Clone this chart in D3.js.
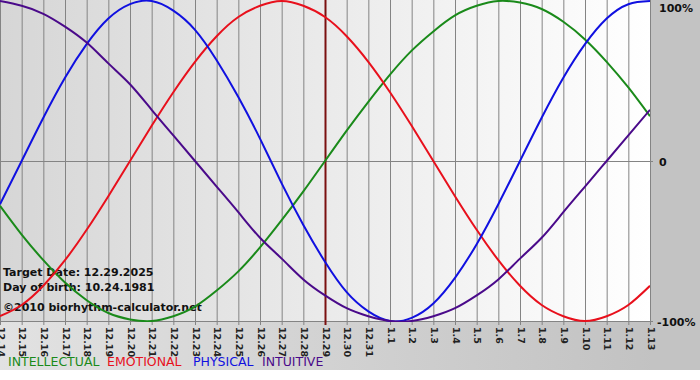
<!DOCTYPE html>
<html><head><meta charset="utf-8">
<script src="https://cdn.jsdelivr.net/npm/d3@7"></script>
<style>
html,body{margin:0;padding:0;background:#fff;}
svg{display:block;}
text{font-family:Tahoma,"DejaVu Sans",Verdana,sans-serif;}
</style></head>
<body>
<script>
const dates = ["12.14","12.15","12.16","12.17","12.18","12.19","12.20","12.21","12.22","12.23","12.24","12.25","12.26","12.27","12.28","12.29","12.30","12.31","1.1","1.2","1.3","1.4","1.5","1.6","1.7","1.8","1.9","1.10","1.11","1.12","1.13"];
const intellectual = [-0.28,-0.46,-0.62,-0.76,-0.87,-0.95,-0.99,-1.00,-0.97,-0.91,-0.81,-0.69,-0.54,-0.37,-0.19,0.00,0.19,0.37,0.54,0.69,0.81,0.91,0.97,1.00,0.99,0.95,0.87,0.76,0.62,0.46,0.28];
const emotional = [-0.97,-0.90,-0.78,-0.62,-0.43,-0.22,0.00,0.22,0.43,0.62,0.78,0.90,0.97,1.00,0.97,0.90,0.78,0.62,0.43,0.22,0.00,-0.22,-0.43,-0.62,-0.78,-0.90,-0.97,-1.00,-0.97,-0.90,-0.78];
const physical = [-0.27,0.00,0.27,0.52,0.73,0.89,0.98,1.00,0.94,0.82,0.63,0.40,0.14,-0.14,-0.40,-0.63,-0.82,-0.94,-1.00,-0.98,-0.89,-0.73,-0.52,-0.27,0.00,0.27,0.52,0.73,0.89,0.98,1.00];
const intuitive = [1.00,0.97,0.92,0.84,0.74,0.61,0.48,0.32,0.16,0.00,-0.16,-0.32,-0.48,-0.61,-0.74,-0.84,-0.92,-0.97,-1.00,-1.00,-0.97,-0.92,-0.84,-0.74,-0.61,-0.48,-0.32,-0.16,0.00,0.16,0.32];
const yTicks = [1, 0, -1];
const yTickLabels = ["100%", "0", "-100%"];
const targetDate = "12.29";
const infoLines = ["Target Date: 12.29.2025", "Day of birth: 10.24.1981", "\u00a92010 biorhythm-calculator.net"];
const legendNames = ["INTELLECTUAL", "EMOTIONAL", "PHYSICAL", "INTUITIVE"];

const series = [
  {name: "INTELLECTUAL", values: intellectual, color: "#1a8a1a"},
  {name: "EMOTIONAL", values: emotional, color: "#e8101c"},
  {name: "PHYSICAL", values: physical, color: "#1010e0"},
  {name: "INTUITIVE", values: intuitive, color: "#4a0a8a"}
];

const W = 700, H = 380;
const pLeft = 0, pRight = 650, pTop = 1, pBottom = 321;

const svg = d3.select("body").append("svg").attr("width", W).attr("height", H);
const defs = svg.append("defs");
const g1 = defs.append("linearGradient").attr("id","outer").attr("x1","0").attr("x2","1").attr("y1","0").attr("y2","0");
g1.append("stop").attr("offset","0").attr("stop-color","#e2e2e2");
g1.append("stop").attr("offset","1").attr("stop-color","#c0c0c0");
const g2 = defs.append("linearGradient").attr("id","plotbg").attr("x1","0").attr("x2","1").attr("y1","0").attr("y2","0");
g2.append("stop").attr("offset","0").attr("stop-color","#d6d6d6");
g2.append("stop").attr("offset","1").attr("stop-color","#ffffff");
defs.append("clipPath").attr("id","clip").append("rect").attr("x",pLeft).attr("y",0).attr("width",pRight-pLeft).attr("height",pBottom+1);

svg.append("rect").attr("x",0).attr("y",0).attr("width",W).attr("height",370).attr("fill","url(#outer)");
svg.append("rect").attr("x",650).attr("y",0).attr("width",50).attr("height",370).attr("fill","#c3c3c3");
svg.append("rect").attr("x",pLeft).attr("y",0).attr("width",pRight-pLeft).attr("height",pBottom).attr("fill","url(#plotbg)");

const x = d3.scalePoint().domain(dates).range([pLeft, pRight]);
const y = d3.scaleLinear().domain([-1, 1]).range([pBottom, pTop]);

// vertical grid
svg.append("g").selectAll("line").data(dates).join("line")
  .attr("x1", d => x(d)).attr("x2", d => x(d))
  .attr("y1", 0).attr("y2", pBottom + 4)
  .attr("stroke", "#848484").attr("stroke-width", 1)
  .attr("transform", "translate(0.5,0)");

// horizontal lines
svg.append("g").selectAll("line").data(yTicks).join("line")
  .attr("x1", pLeft).attr("x2", pRight + 3)
  .attr("y1", d => Math.round(y(d)) + 0.5).attr("y2", d => Math.round(y(d)) + 0.5)
  .attr("stroke", d => d === 1 ? "none" : "#848484");

// target line
svg.append("line")
  .attr("x1", x(targetDate) + 0.5).attr("x2", x(targetDate) + 0.5)
  .attr("y1", 0).attr("y2", pBottom + 4)
  .attr("stroke", "#7a1010").attr("stroke-width", 2);

// x tick labels
svg.append("g").selectAll("text").data(dates).join("text")
  .attr("transform", d => `translate(${x(d) + 1},${pBottom + 6}) rotate(90)`)
  .attr("dy", "0.35em")
  .attr("font-size", "9.5px")
  .attr("font-family", "'Liberation Sans', Arial, sans-serif")
  .attr("font-weight", "bold")
  .attr("fill", "#222")
  .text(d => d);

// y tick labels
svg.append("g").selectAll("text").data(yTicks).join("text")
  .attr("x", d => d < 0 ? 657 : 659)
  .attr("y", d => d === 1 ? 12 : y(d) + 5)
  .attr("font-size", "11px")
  .attr("font-weight", "bold")
  .attr("fill", "#111")
  .text((d, i) => yTickLabels[i]);

// info text
svg.append("g").selectAll("text").data(infoLines).join("text")
  .attr("x", 3)
  .attr("y", (d, i) => [276, 291, 311][i])
  .attr("font-size", "11px")
  .attr("font-weight", "bold")
  .attr("fill", "#111")
  .text(d => d);

// lines
const line = d3.line().x((d, i) => x(dates[i])).y(d => y(d)).curve(d3.curveNatural);
const lg = svg.append("g").attr("clip-path", "url(#clip)");
lg.selectAll("path").data(series).join("path")
  .attr("d", d => line(d.values))
  .attr("fill", "none")
  .attr("stroke", d => d.color)
  .attr("stroke-width", 2);

// legend
const legendX = [8, 107, 193, 262];
svg.append("g").selectAll("text").data(legendNames).join("text")
  .attr("x", (d, i) => legendX[i])
  .attr("y", 366)
  .attr("font-size", "12.5px")
  .attr("fill", (d, i) => series[i].color)
  .text(d => d);
</script>
</body></html>
